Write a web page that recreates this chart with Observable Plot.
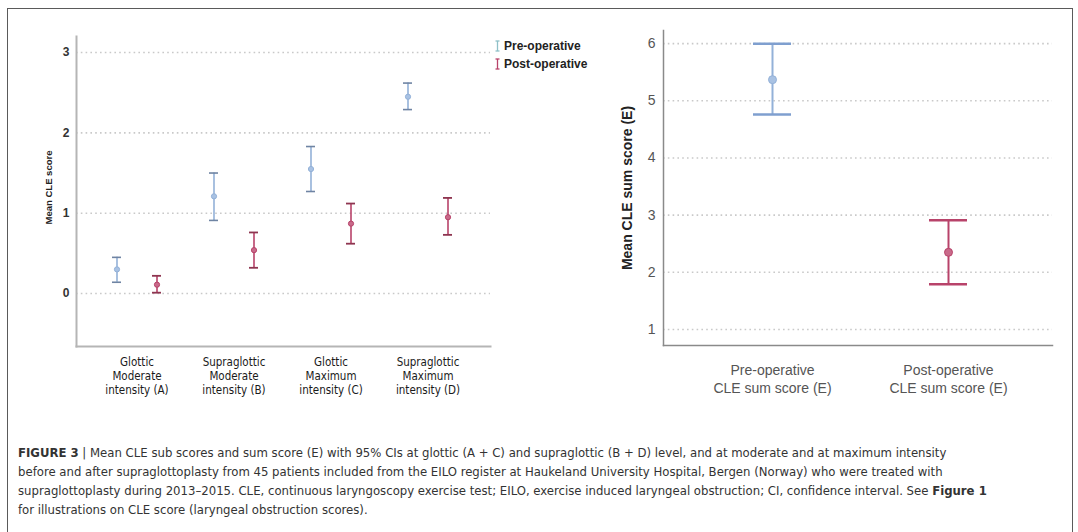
<!DOCTYPE html>
<html>
<head>
<meta charset="utf-8">
<script src="https://cdn.jsdelivr.net/npm/d3@7"></script>
<script src="https://cdn.jsdelivr.net/npm/@observablehq/plot@0.6"></script>
<style>
  html, body { margin: 0; padding: 0; background: #fff; }
  #page { position: relative; width: 1078px; height: 532px; overflow: hidden; background: #fff; font-family: "Liberation Sans", Arial, sans-serif; }
  #border { position: absolute; left: 7px; top: 8px; width: 1066px; height: 540px; border: 1.5px solid #5a5a5a; box-sizing: border-box; }
  #left { position: absolute; left: 0; top: 0; }
  #right { position: absolute; left: 590px; top: 0; }
  #legend { position: absolute; left: 495px; top: 37px; font-family: "Liberation Sans", Arial, sans-serif; font-weight: bold; font-size: 12px; color: #222; }
  #legend .row { height: 18px; line-height: 18px; white-space: nowrap; display: flex; align-items: center; }
  #legend svg { margin-right: 4px; }
  #caption { position: absolute; left: 18px; top: 443px; font-family: "Liberation Sans Narrow", "DejaVu Sans Condensed", "Arial Narrow", sans-serif; font-size: 13px; color: #333; }
  #caption div { height: 19px; line-height: 19px; white-space: nowrap; }
</style>
</head>
<body>
<div id="page">
  <div id="border"></div>
  <div id="left"></div>
  <div id="right"></div>
  <div id="legend"></div>
  <div id="caption"></div>
</div>
<script>
// ---- data ----
const categories = ["Glottic\nModerate\nintensity (A)", "Supraglottic\nModerate\nintensity (B)", "Glottic\nMaximum\nintensity (C)", "Supraglottic\nMaximum\nintensity (D)"];
const periods = ["Pre-operative", "Post-operative"];
const preMean = [0.30, 1.21, 1.55, 2.45];
const preLo   = [0.14, 0.91, 1.27, 2.29];
const preHi   = [0.45, 1.50, 1.83, 2.62];
const postMean = [0.11, 0.54, 0.87, 0.95];
const postLo   = [0.01, 0.32, 0.62, 0.73];
const postHi   = [0.22, 0.76, 1.12, 1.19];
const leftTicks = [0, 1, 2, 3];

const sumCategories = ["Pre-operative\nCLE sum score (E)", "Post-operative\nCLE sum score (E)"];
const sumMean = [5.37, 2.35];
const sumLo   = [4.76, 1.79];
const sumHi   = [6.00, 2.91];
const rightTicks = [1, 2, 3, 4, 5, 6];

const captionLines = [
  ["<b>FIGURE 3</b> | Mean CLE sub scores and sum score (E) with 95% CIs at glottic (A + C) and supraglottic (B + D) level, and at moderate and at maximum intensity"],
  ["before and after supraglottoplasty from 45 patients included from the EILO register at Haukeland University Hospital, Bergen (Norway) who were treated with"],
  ["supraglottoplasty during 2013–2015. CLE, continuous laryngoscopy exercise test; EILO, exercise induced laryngeal obstruction; CI, confidence interval. See <b>Figure 1</b>"],
  ["for illustrations on CLE score (laryngeal obstruction scores)."]
];

// ---- build rows ----
const preRows = categories.map((c, i) => ({cat: c, mean: preMean[i], lo: preLo[i], hi: preHi[i]}));
const postRows = categories.map((c, i) => ({cat: c, mean: postMean[i], lo: postLo[i], hi: postHi[i]}));
const sumRows = sumCategories.map((c, i) => ({cat: c, mean: sumMean[i], lo: sumLo[i], hi: sumHi[i], period: periods[i]}));

const preColor = "#93b1d8", preCap = "#6f84a3", preDot = "#a9c2e3";
const postColor = "#b8436a", postCap = "#8e3550", postDot = "#c86a8a";
const gridStyle = {stroke: "#c9c9c9", strokeWidth: 1.6, strokeDasharray: "1.6,3.2"};
const axisStroke = "#b5b5b5";
const intFmt = d3.format("d");

// ---- left chart ----
const leftBandW = (490 - 76 - 12 - 14) / categories.length;
const capInsetL = (leftBandW - 9) / 2;
const offL = 20;

function errorMarks(rows, dx, bar, cap, dot, capInset, sw, capW, r) {
  return [
    Plot.ruleX(rows, {x: "cat", y1: "lo", y2: "hi", dx, stroke: bar, strokeWidth: sw}),
    Plot.tickY(rows, {x: "cat", y: "lo", dx, stroke: cap, strokeWidth: capW, insetLeft: capInset, insetRight: capInset}),
    Plot.tickY(rows, {x: "cat", y: "hi", dx, stroke: cap, strokeWidth: capW, insetLeft: capInset, insetRight: capInset}),
    Plot.dot(rows, {x: "cat", y: "mean", dx, r, fill: dot, stroke: bar, strokeWidth: 1})
  ];
}

const left = Plot.plot({
  width: 500,
  height: 410,
  marginLeft: 76,
  marginRight: 10,
  marginTop: 36,
  marginBottom: 64,
  style: {fontFamily: "Liberation Sans, Arial, sans-serif", background: "transparent"},
  x: {domain: categories, padding: 0, insetLeft: 12, insetRight: 14, axis: null},
  y: {domain: [-0.66, 3.2], axis: null},
  marks: [
    Plot.ruleY(leftTicks, gridStyle),
    Plot.frame({anchor: "left", stroke: axisStroke, strokeWidth: 2}),
    Plot.frame({anchor: "bottom", stroke: axisStroke, strokeWidth: 2}),
    Plot.axisY({ticks: leftTicks, tickFormat: intFmt, tickSize: 0, tickPadding: 7, label: null, fontWeight: "bold", fontSize: 12, fill: "#333"}),
    Plot.text(categories, {x: d => d, frameAnchor: "bottom", lineAnchor: "top", dy: 10, lineHeight: 1.2, fontSize: 11.5, fill: "#1a1a1a", fontFamily: "Liberation Sans Narrow, DejaVu Sans Condensed, sans-serif"}),
    Plot.text(["Mean CLE score"], {frameAnchor: "left", rotate: -90, dx: -28, dy: -4, textAnchor: "middle", fontWeight: "bold", fontSize: 9.5, fill: "#222"}),
    ...errorMarks(preRows, -offL, preColor, preCap, preDot, capInsetL, 1.6, 1.6, 2.6),
    ...errorMarks(postRows, offL, postColor, postCap, postDot, capInsetL, 1.6, 1.8, 2.6)
  ]
});
document.getElementById("left").appendChild(left);

// ---- right chart ----
const rightBandW = (1052 - 663 - 21 - 16) / sumCategories.length;
const capInsetR = (rightBandW - 38) / 2;
const right = Plot.plot({
  width: 488,
  height: 410,
  marginLeft: 73,
  marginRight: 26,
  marginTop: 30,
  marginBottom: 65,
  style: {fontFamily: "Liberation Sans, Arial, sans-serif", background: "transparent"},
  x: {domain: sumCategories, padding: 0, insetLeft: 21, insetRight: 16, axis: null},
  y: {domain: [0.72, 6.23], axis: null},
  marks: [
    Plot.ruleY(rightTicks, gridStyle),
    Plot.frame({anchor: "left", stroke: "#8a8a8a", strokeWidth: 1.5}),
    Plot.frame({anchor: "bottom", stroke: "#8a8a8a", strokeWidth: 1.5}),
    Plot.axisY({ticks: rightTicks, tickFormat: intFmt, tickSize: 0, tickPadding: 8, label: null, fontSize: 14, fill: "#555"}),
    Plot.text(sumCategories, {x: d => d, frameAnchor: "bottom", lineAnchor: "top", dy: 17, lineHeight: 1.28, fontSize: 14, fill: "#555"}),
    Plot.text(["Mean CLE sum score (E)"], {frameAnchor: "left", rotate: -90, dx: -36, textAnchor: "middle", fontWeight: "bold", fontSize: 14, fill: "#222"}),
    Plot.ruleX(sumRows, {x: "cat", y1: "lo", y2: "hi", stroke: d => d.period === periods[0] ? preColor : postColor, strokeWidth: 2}),
    Plot.tickY(sumRows, {x: "cat", y: "lo", stroke: d => d.period === periods[0] ? "#7f9fcf" : postColor, strokeWidth: 2.5, insetLeft: capInsetR, insetRight: capInsetR}),
    Plot.tickY(sumRows, {x: "cat", y: "hi", stroke: d => d.period === periods[0] ? "#7f9fcf" : postColor, strokeWidth: 2.5, insetLeft: capInsetR, insetRight: capInsetR}),
    Plot.dot(sumRows, {x: "cat", y: "mean", r: 4, fill: d => d.period === periods[0] ? preDot : postDot, stroke: d => d.period === periods[0] ? preColor : postColor, strokeWidth: 1})
  ]
});
document.getElementById("right").appendChild(right);

// ---- legend ----
const legend = document.getElementById("legend");
[[periods[0], "#8fc0c8"], [periods[1], postColor]].forEach(([name, col]) => {
  const row = document.createElement("div");
  row.className = "row";
  row.innerHTML = `<svg width="5" height="12"><line x1="2.5" y1="1" x2="2.5" y2="11" stroke="${col}" stroke-width="1.3"/><line x1="0.5" y1="1" x2="4.5" y2="1" stroke="${col}" stroke-width="1.3"/><line x1="0.5" y1="11" x2="4.5" y2="11" stroke="${col}" stroke-width="1.3"/></svg><span>${name}</span>`;
  legend.appendChild(row);
});

// ---- caption ----
const cap = document.getElementById("caption");
captionLines.forEach(l => { const d = document.createElement("div"); d.innerHTML = l[0]; cap.appendChild(d); });
</script>
</body>
</html>
